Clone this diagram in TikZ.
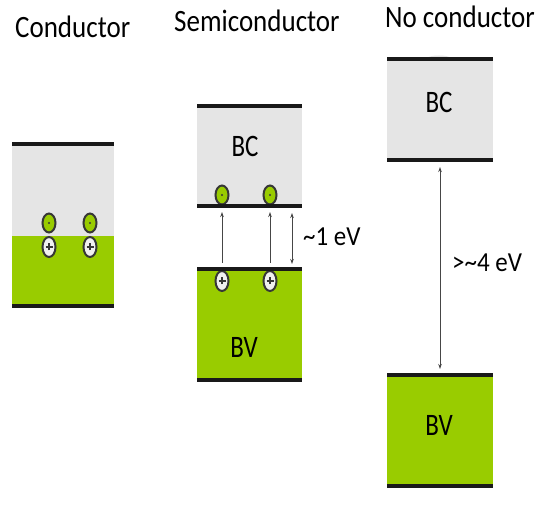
\documentclass[tikz,border=0pt]{standalone}
\usepackage{fontspec}
\setmainfont{Carlito}
\usetikzlibrary{arrows.meta,shapes.geometric}
\definecolor{bandgreen}{RGB}{153,204,0}
\definecolor{bandgray}{RGB}{229,229,229}
\definecolor{edgegray}{RGB}{55,55,55}
\definecolor{arrowgray}{RGB}{70,70,70}
\tikzset{
  bandline/.style={line width=4.5pt, black!90},
  title/.style={anchor=base west, inner sep=0pt, font=\fontsize{27}{30}\selectfont},
  bandlabel/.style={anchor=base, inner sep=0pt, font=\fontsize{25}{28}\selectfont},
  evlabel/.style={anchor=base west, inner sep=0pt, font=\fontsize{25}{28}\selectfont},
  electron/.style={ellipse, draw=edgegray, line width=2pt, fill=bandgreen, minimum width=13pt, minimum height=19pt, inner sep=0pt},
  hole/.style={ellipse, draw=edgegray, line width=2pt, fill=white!94!black, minimum width=13pt, minimum height=20pt, inner sep=0pt},
  plusmark/.style={draw=edgegray, line width=1.1pt},
  jump/.style={draw=arrowgray, line width=0.9pt, -{Stealth[length=5pt,width=3.5pt]}},
  gap/.style={draw=arrowgray, line width=0.9pt, {Stealth[length=5pt,width=3.5pt]}-{Stealth[length=5pt,width=3.5pt]}}
}
\newcommand{\eldot}[1]{\fill[edgegray] (#1.center) circle (1.2pt);}
\newcommand{\holeplus}[1]{\draw[plusmark] ([xshift=-3.5pt]#1.center) -- ([xshift=3.5pt]#1.center) ([yshift=-3.5pt]#1.center) -- ([yshift=3.5pt]#1.center);}
\begin{document}
\begin{tikzpicture}[x=1pt,y=-1pt]
\useasboundingbox (0,0) rectangle (543,510);
\fill[white] (0,0) rectangle (543,510);

% titles
\node[title] (t1) at (15,38) {\scalebox{1}[1.15]{Conductor}};
\node[title] (t2) at (174,32) {\scalebox{1}[1.15]{Semiconductor}};
\node[title] (t3) at (385,28) {\scalebox{1}[1.15]{No conductor}};

% ---- Conductor ----
\fill[bandgray] (12,144) rectangle (114,236);
\fill[bandgreen] (12,236) rectangle (114,305);
\draw[bandline] (12,144) -- (114,144);
\draw[bandline] (12,306) -- (114,306);
\node[hole] (ch1) at (49,247) {};
\node[hole] (ch2) at (90,247) {};
\node[electron] (ce1) at (49,223) {};
\node[electron] (ce2) at (90,223) {};
\eldot{ce1}\eldot{ce2}
\holeplus{ch1}\holeplus{ch2}

% ---- Semiconductor ----
\fill[bandgray] (197,106) rectangle (302,206);
\draw[bandline] (197,106) -- (302,106);
\node[bandlabel] (sbc) at (245,157) {\scalebox{1}[1.25]{BC}};
\fill[bandgreen] (197,269) rectangle (302,380);
\node[hole] (sh1) at (222,281) {};
\node[hole] (sh2) at (270,281) {};
\holeplus{sh1}\holeplus{sh2}
\draw[bandline] (197,269) -- (302,269);
\draw[bandline] (197,380) -- (302,380);
\node[electron] (se1) at (222,195) {};
\node[electron] (se2) at (270,195) {};
\eldot{se1}\eldot{se2}
\draw[bandline] (197,206) -- (302,206);
\node[bandlabel] (sbv) at (244,357) {\scalebox{1}[1.25]{BV}};
\coordinate (sa1b) at (222,263);
\coordinate (sa1t) at (222,212);
\coordinate (sa2b) at (270,263);
\coordinate (sa2t) at (270,212);
\coordinate (sgt) at (292,213);
\coordinate (sgb) at (292,264);
\draw[jump] (sa1b) -- (sa1t);
\draw[jump] (sa2b) -- (sa2t);
\draw[gap] (sgt) -- (sgb);
\node[evlabel] (ev1) at (303,246) {\scalebox{1}[1.1]{\textasciitilde 1 eV}};

% ---- No conductor ----
\fill[bandgray] (439,58) ellipse (11pt and 2.5pt);
\fill[bandgray] (387,59) rectangle (493,160);
\draw[bandline] (387,59) -- (493,59);
\draw[bandline] (387,160) -- (493,160);
\node[bandlabel] (nbc) at (439,113) {\scalebox{1}[1.25]{BC}};
\fill[bandgreen] (387,375) rectangle (493,486);
\draw[bandline] (387,375) -- (493,375);
\draw[bandline] (387,486) -- (493,486);
\node[bandlabel] (nbv) at (439,435) {\scalebox{1}[1.25]{BV}};
\coordinate (ngt) at (440,167);
\coordinate (ngb) at (440,369);
\draw[gap] (ngt) -- (ngb);
\node[evlabel] (ev4) at (452,272) {\scalebox{1}[1.1]{>\textasciitilde 4 eV}};
\end{tikzpicture}
\end{document}
